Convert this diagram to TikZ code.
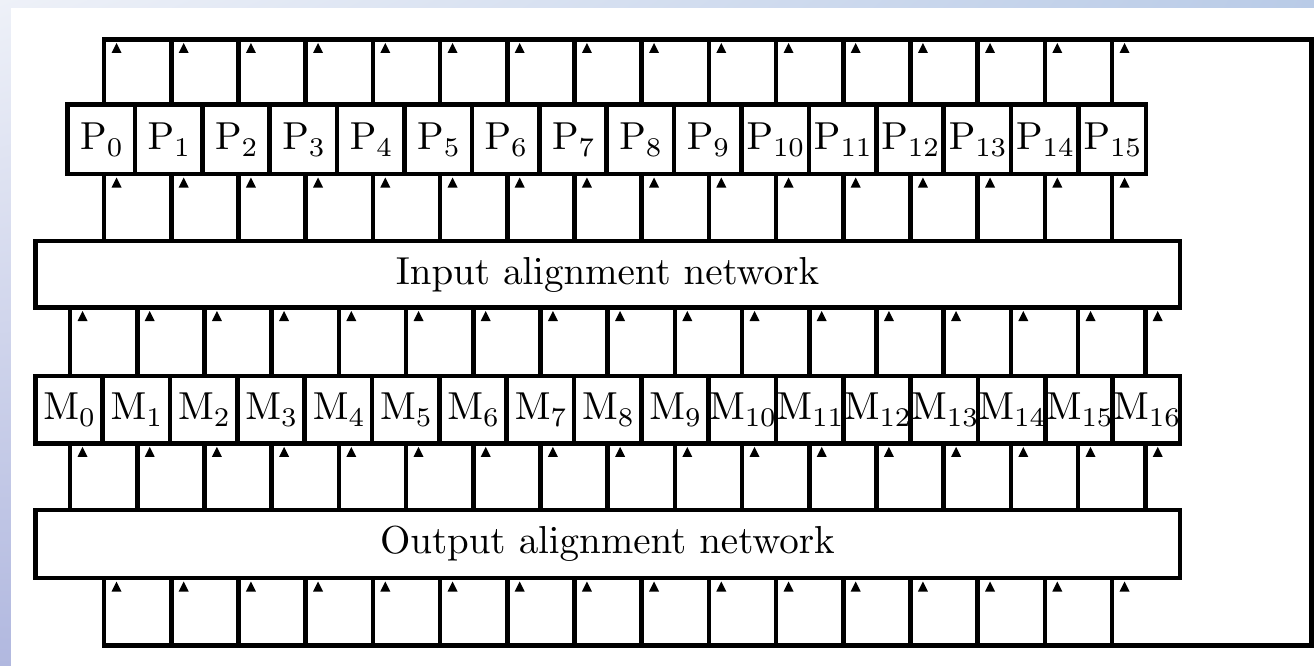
\documentclass[tikz,border=0pt]{standalone}
\usetikzlibrary{calc,shadings}
\font\lblf=cmr10 at 39pt
\font\subf=cmr7 at 27pt
\newcommand\sublab[2]{{\lblf #1}\raisebox{-7pt}{\subf #2}}
\definecolor{bgtl}{HTML}{EEF1F8}
\definecolor{bgtr}{HTML}{B9CBE7}
\definecolor{bgbl}{HTML}{B1B8DF}
\definecolor{bgbr}{HTML}{B4C2E3}
\begin{document}
\begin{tikzpicture}[x=1pt,y=-1pt,
  wire/.style={line width=4.6pt, line cap=rect},
  unit/.style={draw, line width=4.6pt, inner sep=0pt, outer sep=0pt, rectangle},
  uptip/.pic={\fill (0,0) -- (-5,10) -- (5,10) -- cycle;}]
\useasboundingbox (0,0) rectangle (1314,666);
\shade[upper left=bgtl, upper right=bgtr, lower left=bgbl, lower right=bgbr] (0,0) rectangle (1314,666);
\fill[white] (11,8) rectangle (1314,666);

% processors
\foreach \i in {0,...,15}
  \node[unit, minimum width=67.4pt, minimum height=69.5pt] (P\i) at ({101.2+67.4*\i},139.25) {\sublab{P}{\i}};
% memories
\foreach \j in {0,...,16}
  \node[unit, minimum width=67.34pt, minimum height=67.4pt] (M\j) at ({68.97+67.34*\j},409.7) {\sublab{M}{\j}};
% networks
\node[unit, minimum width=1144.7pt, minimum height=66.5pt] (IN) at (607.65,274.25) {\lblf Input alignment network};
\node[unit, minimum width=1144.7pt, minimum height=68pt] (OUT) at (607.65,544) {\lblf Output alignment network};

% loop coordinates
\coordinate (RT) at (1311.7,39.5);
\coordinate (RB) at (1311.7,645.3);
\foreach \i in {0,...,15}{
  \coordinate (T\i) at ({104+67.2*\i},39.5);
  \coordinate (B\i) at ({104+67.2*\i},645.3);
}
\draw[wire, line join=miter] (T0) -- (RT) -- (RB) -- (B0);

% P-side connectors
\foreach \i in {0,...,15}{
  \draw[wire] (T\i) -- (T\i |- P\i.north);
  \pic at ($(T\i)+(12.5,3.5)$) {uptip};
  \draw[wire] (P\i.south -| T\i) -- (T\i |- IN.north);
  \pic at ($(P\i.south -| T\i)+(12.5,3.5)$) {uptip};
  \draw[wire] (OUT.south -| B\i) -- (B\i);
  \pic at ($(OUT.south -| B\i)+(12.5,3.5)$) {uptip};
}
% M-side connectors
\foreach \j in {0,...,16}{
  \coordinate (C\j) at ({70+67.2*\j},0);
  \draw[wire] (IN.south -| C\j) -- (C\j |- M\j.north);
  \pic at ($(IN.south -| C\j)+(12.5,3.5)$) {uptip};
  \draw[wire] (M\j.south -| C\j) -- (C\j |- OUT.north);
  \pic at ($(M\j.south -| C\j)+(12.5,3.5)$) {uptip};
}
\end{tikzpicture}
\end{document}
